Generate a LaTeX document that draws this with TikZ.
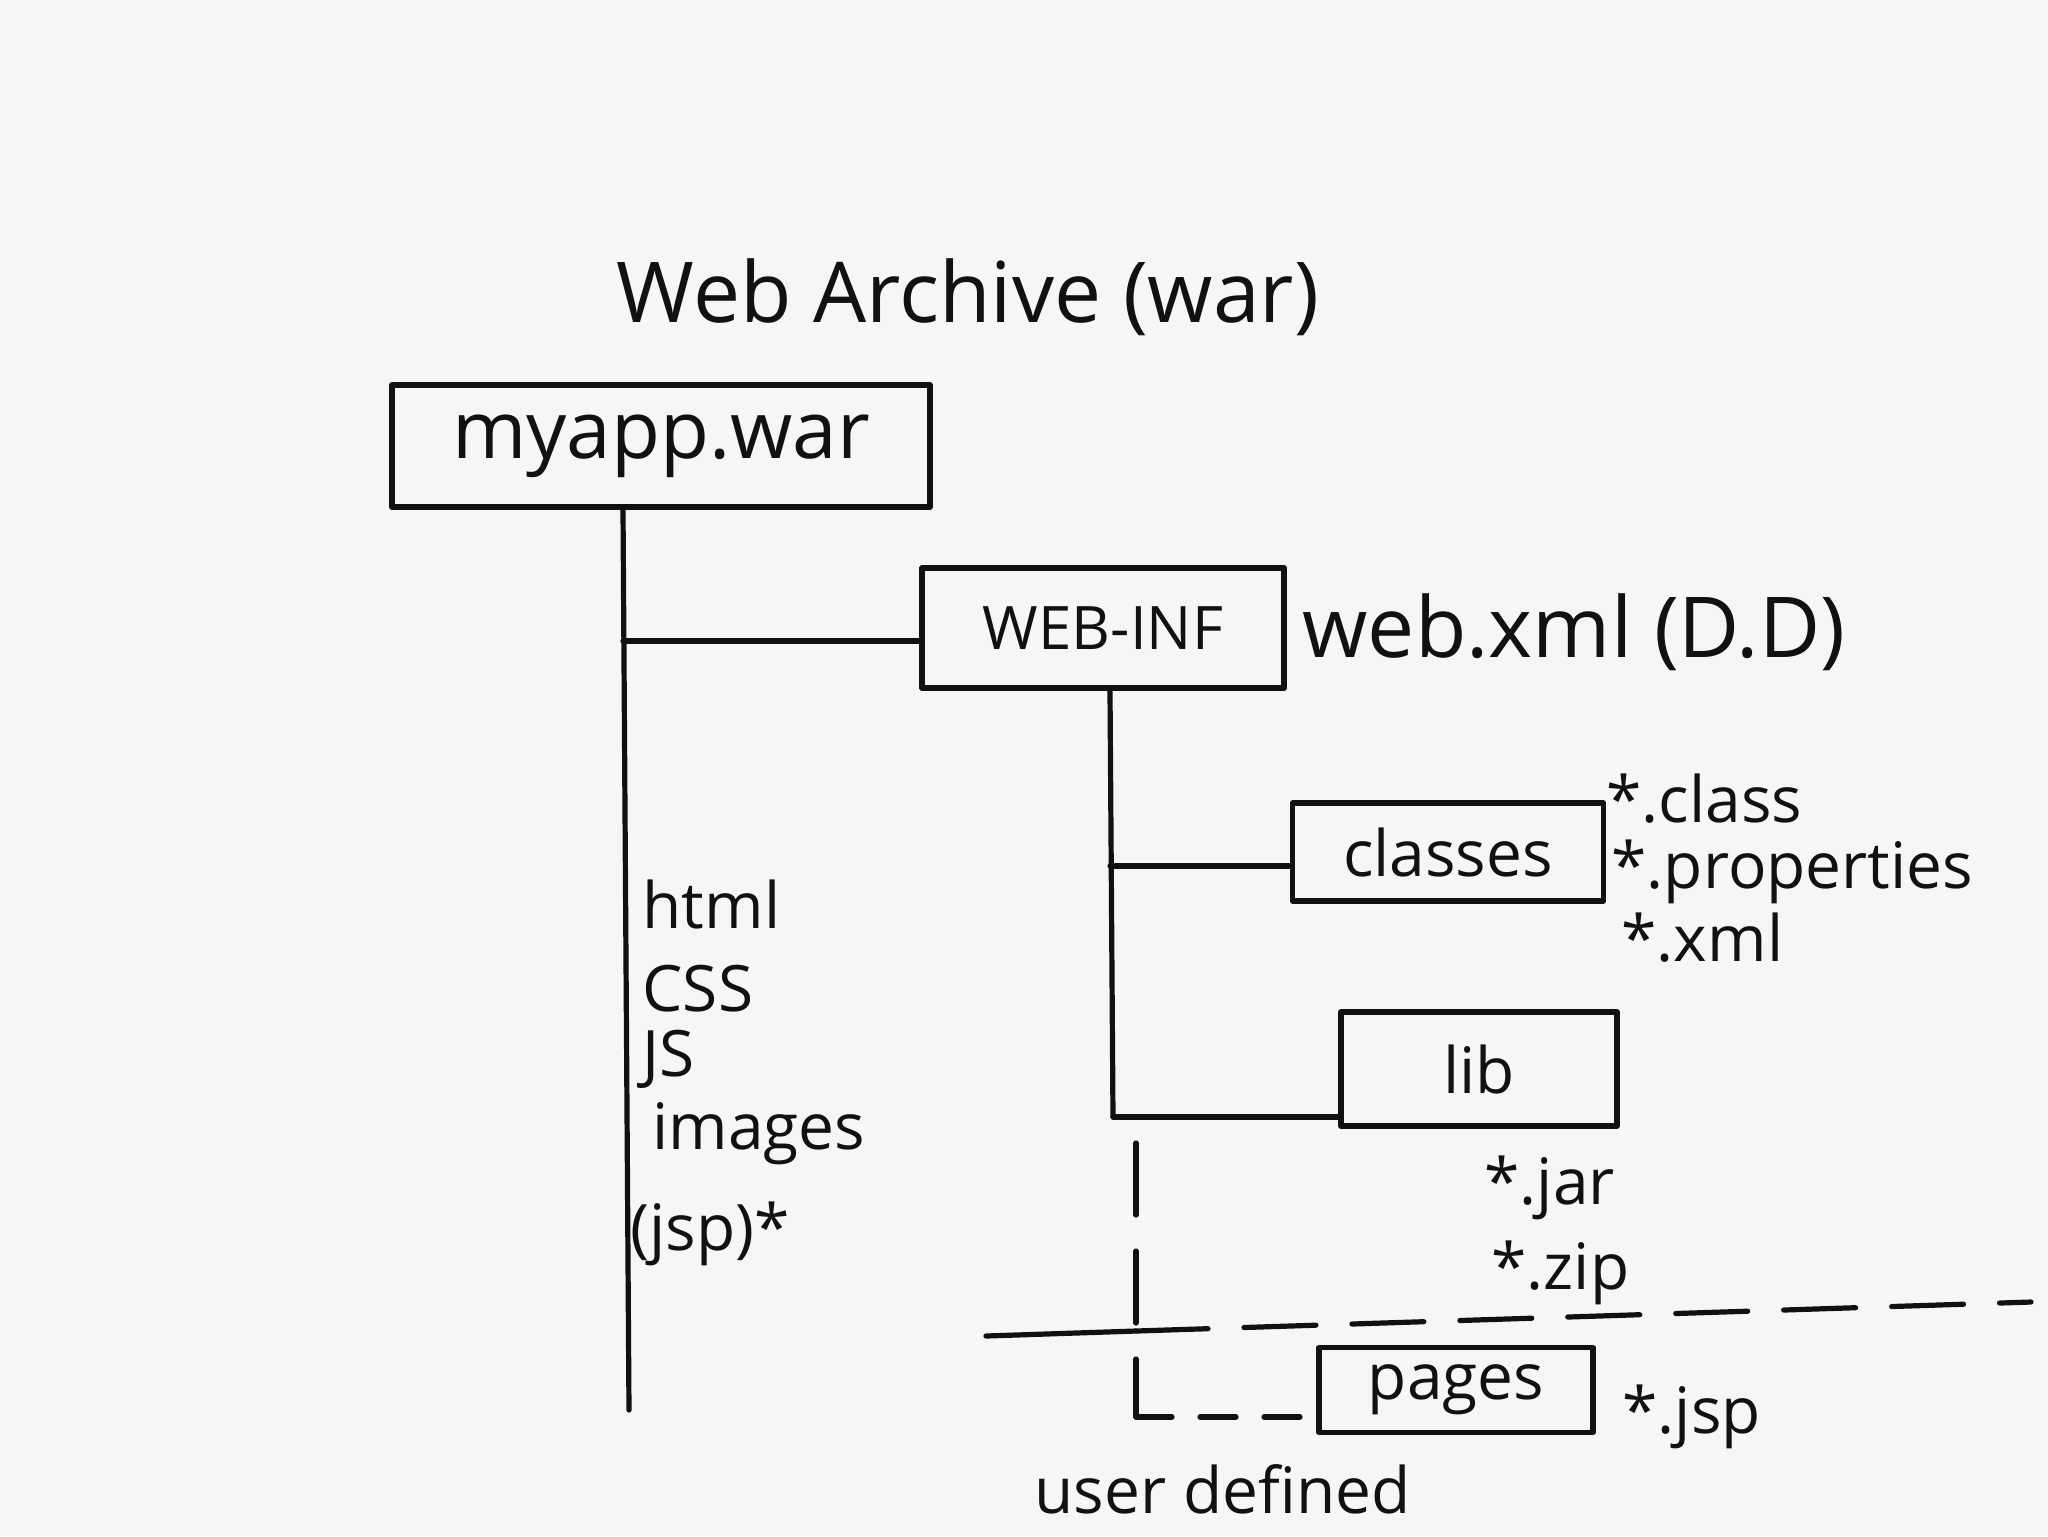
\documentclass[tikz,border=0pt]{standalone}
\usepackage{fontspec}
\setmainfont{Open Sans}
\definecolor{paper}{HTML}{F6F6F5}
\definecolor{ink}{HTML}{111111}
\begin{document}
\begin{tikzpicture}[x=0.25pt,y=-0.25pt,
  line width=1.3pt, line cap=round, line join=round, draw=ink,
  box/.style={draw=ink, rectangle, inner sep=0pt, text=ink},
  lbl/.style={text=ink, inner sep=0pt, anchor=west, font=\fontsize{16}{19}\selectfont},
  dashline/.style={dash pattern=on 18pt off 9pt}]
\fill[paper] (0,0) rectangle (2048,1536);
\useasboundingbox (0,0) rectangle (2048,1536);

% title
\node[text=ink, font=\fontsize{21}{25}\selectfont] (title) at (968,297) {Web Archive (war)};

% boxes
\node[box, minimum width=134.5pt, minimum height=30.5pt, font=\fontsize{20}{24}\selectfont] (myapp) at (661,446) {myapp.war};
\node[box, minimum width=90.5pt, minimum height=30pt, font=\fontsize{15}{18}\selectfont] (webinf) at (1103,628) {WEB-INF};
\node[box, minimum width=77.75pt, minimum height=24.5pt, font=\fontsize{16}{19}\selectfont] (classes) at (1448,852) {classes};
\node[box, minimum width=69pt, minimum height=28.5pt, font=\fontsize{16}{19}\selectfont] (lib) at (1479,1069) {lib};
\node[box, minimum width=68.5pt, minimum height=21.25pt, font=\fontsize{16}{19}\selectfont] (pages) at (1456,1390) {pages};

% labels
\node[lbl, font=\fontsize{21}{25}\selectfont] (webxml) at (1300,632) {web.xml (D.D)};
\node[lbl] (tclass) at (1604,799) {*.class};
\node[lbl] (tprop) at (1609,872) {*.properties};
\node[lbl] (txml) at (1619,938) {*.xml};
\node[lbl] (thtml) at (640,904) {html};
\node[lbl] (tcss) at (640,989) {CSS};
\node[lbl] (tjs) at (640,1059) {JS};
\node[lbl] (timg) at (650,1134) {images};
\node[lbl] (tjsp) at (628,1234) {(jsp)*};
\node[lbl] (tjar) at (1482,1188) {*.jar};
\node[lbl] (tzip) at (1489,1273) {*.zip};
\node[lbl] (tjspp) at (1620,1417) {*.jsp};
\node[lbl] (tuser) at (1032,1489) {user defined};

% trunk of myapp.war
\coordinate (t0) at (623,507);
\coordinate (tb) at (623,641);
\coordinate (tend) at (629,1410);
\draw (myapp.south -| t0) -- (tend);
\draw (tb) -- (tb -| webinf.west);

% trunk of WEB-INF
\coordinate (w0) at (1110,688);
\coordinate (wc) at (1110,866);
\coordinate (wl) at (1113,1117);
\draw (webinf.south -| w0) -- (wl);
\draw (wc) -- (wc -| classes.west);
\draw (wl) -- (wl -| lib.west);

% user defined (dashed)
\coordinate (u0) at (1136,1143);
\coordinate (u1) at (1136,1417);
\draw[dashline] (u0) -- (u1);
\draw[dash pattern=on 9pt off 7pt] (u1) -- (u1 -| pages.west);

% separator line
\coordinate (s0) at (986,1336);
\coordinate (s1) at (1136,1331);
\coordinate (s2) at (2031,1302);
\draw (s0) -- (s1);
\draw[dashline] (s1) -- (s2);
\end{tikzpicture}
\end{document}
